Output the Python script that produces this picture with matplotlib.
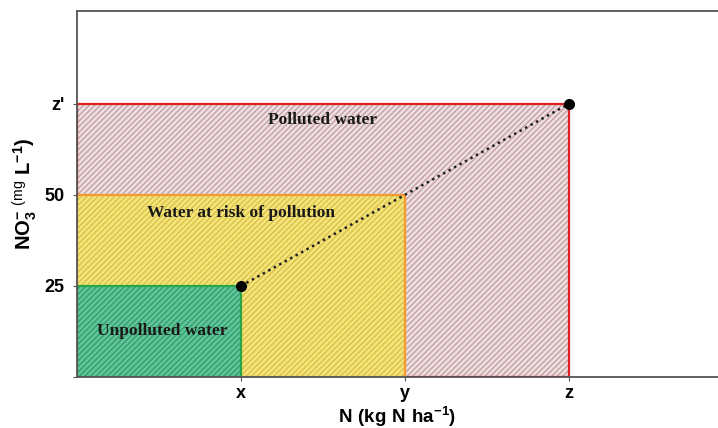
import matplotlib.pyplot as plt
from matplotlib.patches import Rectangle

# zone limits in data units (x, y, z on N axis; 25, 50, z' on NO3 axis)
zone_names = ["Polluted water", "Water at risk of pollution", "Unpolluted water"]
zone_n = [3.0, 2.0, 1.0]
zone_no3 = [75.0, 50.0, 25.0]
zone_fill = ["#ecdfdf", "#f5e47a", "#62c59a"]
zone_hatch = ["#c49aa0", "#d6bf45", "#2f9a6a"]
zone_edge = ["#e02020", "#f59a30", "#2aa64a"]
label_pos = [(1.50, 70.5), (1.00, 45.0), (0.52, 12.5)]

line_n = [1.0, 3.0]
line_no3 = [25.0, 75.0]

xticks = [1.0, 2.0, 3.0]
xticklabels = ["x", "y", "z"]
yticks = [0.0, 25.0, 50.0, 75.0]
yticklabels = ["", "25", "50", "z'"]

plt.rcParams["hatch.linewidth"] = 0.9
plt.rcParams["font.family"] = ["Liberation Sans", "DejaVu Sans"]
plt.rcParams["mathtext.fontset"] = "custom"
plt.rcParams["mathtext.rm"] = "Liberation Sans"
plt.rcParams["mathtext.bf"] = "Liberation Sans:bold"

fig = plt.figure(figsize=(7.18, 4.28), dpi=100)
ax = fig.add_axes([0.1072, 0.1192, 0.8928, 0.8551])

for n, c, fill, hcol, ecol in zip(zone_n, zone_no3, zone_fill, zone_hatch, zone_edge):
    ax.add_patch(Rectangle((0, 0), n, c, facecolor=fill, edgecolor=hcol,
                           hatch="//////", linewidth=0))
    ax.add_patch(Rectangle((0, 0), n, c, facecolor="none", edgecolor=ecol,
                           linewidth=1.6))

ax.plot(line_n, line_no3, linestyle=(0, (1, 1.5)), color="#222222", linewidth=1.8)
ax.plot(line_n, line_no3, "o", color="black", markersize=7)

for name, (px, py) in zip(zone_names, label_pos):
    ax.text(px, py, name, ha="center", va="center", fontsize=12.5,
            fontweight="bold", family="Liberation Serif", color="#1a1a1a")

ax.set_xlim(0, 3.91)
ax.set_ylim(0, 100.5)
ax.set_xticks(xticks)
ax.set_xticklabels(xticklabels, fontsize=13, fontweight="bold")
ax.set_yticks(yticks)
ax.set_yticklabels(yticklabels, fontsize=13, fontweight="bold")
ax.tick_params(length=3, width=0.8, color="#555555", pad=3)
ax.tick_params(axis="y", pad=6)

for side in ["left", "top", "bottom"]:
    ax.spines[side].set_color("#555555")
    ax.spines[side].set_linewidth(1.3)
ax.spines["right"].set_visible(False)

ax.set_xlabel(r"$\mathbf{N\ (kg\ N\ ha^{-1})}$", fontsize=13.5, labelpad=2)
ax.set_ylabel(r"$\mathbf{NO_3^{-}}$ $^{\mathrm{(mg}}$ $\mathbf{L^{-1})}$", fontsize=14.5,
              labelpad=4)

fig.savefig("out.png", dpi=100)
